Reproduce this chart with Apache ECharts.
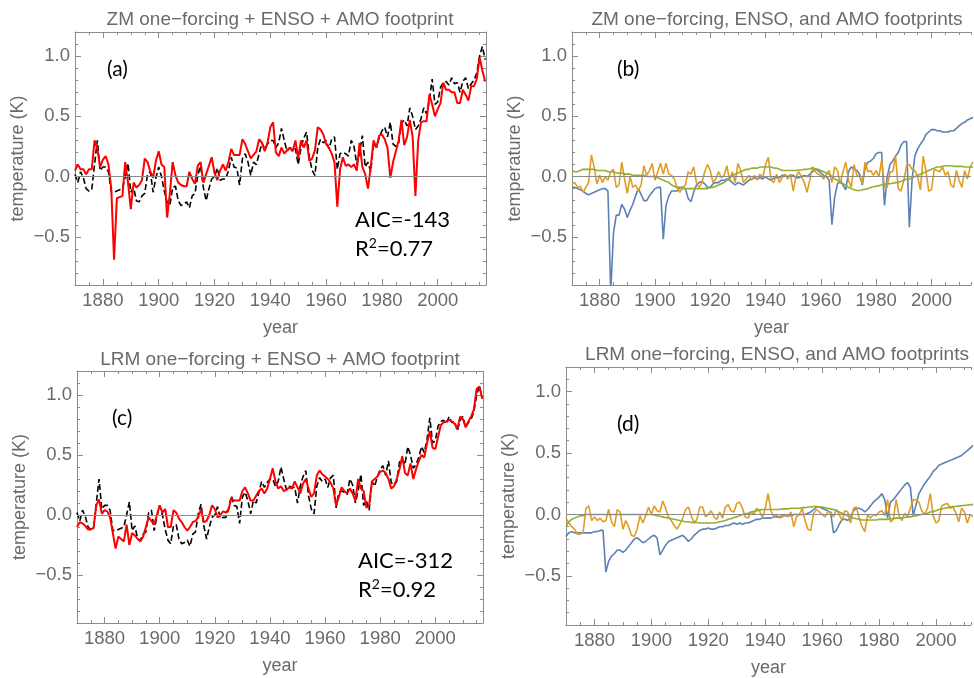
<!DOCTYPE html>
<html>
<head>
<meta charset="utf-8">
<script src="https://cdn.jsdelivr.net/npm/echarts@6/dist/echarts.min.js"></script>
<style>
  html, body { margin: 0; padding: 0; background: #fff; }
  #chart { width: 974px; height: 678px; }
</style>
</head>
<body>
<div id="chart"></div>
<script>
const firstYear = 1870

// observed temperature (black dashed, panels a and c)
const observed = [
  0.02, -0.05, 0.04, -0.01, -0.10, -0.12, -0.11, 0.10, 0.30, 0.05,
  0.08, 0.08, 0.04, -0.13, -0.13, -0.12, -0.11, -0.10, 0.00, 0.11,
  -0.13, -0.09, -0.20, -0.21, -0.16, -0.14, 0.02, 0.04, -0.13, -0.01,
  0.08, 0.00, -0.12, -0.21, -0.24, -0.09, -0.08, -0.20, -0.24, -0.23,
  -0.21, -0.26, -0.16, -0.14, 0.01, 0.09, -0.09, -0.20, -0.10, -0.02,
  0.00, 0.07, -0.03, -0.02, -0.02, 0.05, 0.16, 0.08, 0.07, -0.07,
  0.15, 0.19, 0.12, 0.01, 0.12, 0.10, 0.19, 0.28, 0.23, 0.27,
  0.30, 0.30, 0.24, 0.28, 0.40, 0.30, 0.21, 0.24, 0.23, 0.23,
  0.10, 0.24, 0.32, 0.37, 0.16, 0.05, 0.01, 0.24, 0.31, 0.28,
  0.30, 0.23, 0.31, 0.33, 0.06, 0.19, 0.20, 0.19, 0.17, 0.30,
  0.25, 0.10, 0.20, 0.34, 0.08, 0.12, 0.04, 0.28, 0.24, 0.32,
  0.38, 0.41, 0.33, 0.45, 0.27, 0.25, 0.28, 0.44, 0.47, 0.42,
  0.57, 0.50, 0.39, 0.42, 0.48, 0.57, 0.52, 0.63, 0.81, 0.60,
  0.62, 0.74, 0.78, 0.79, 0.76, 0.82, 0.77, 0.78, 0.70, 0.79,
  0.82, 0.73, 0.77, 0.80, 0.86, 1.00, 1.08, 0.97
]

// ZM one-forcing + ENSO + AMO fit (red, panel a)
const zmFit = [
  0.05, 0.10, 0.06, 0.06, 0.02, 0.06, 0.06, 0.30, 0.23, 0.08,
  0.14, 0.17, 0.10, -0.10, -0.69, -0.18, -0.17, -0.16, 0.12, -0.05,
  -0.27, -0.05, -0.09, -0.07, -0.03, 0.15, 0.12, 0.04, -0.01, 0.13,
  0.21, 0.10, 0.08, -0.34, -0.14, 0.12, 0.01, -0.05, -0.07, -0.08,
  -0.08, 0.04, -0.02, -0.06, 0.09, 0.12, -0.05, 0.02, 0.09, 0.16,
  0.03, -0.03, 0.05, 0.10, 0.05, 0.12, 0.23, 0.18, 0.18, 0.18,
  0.31, 0.27, 0.21, 0.15, 0.18, 0.21, 0.31, 0.28, 0.21, 0.28,
  0.41, 0.45, 0.20, 0.17, 0.24, 0.19, 0.22, 0.24, 0.21, 0.30,
  0.15, 0.30, 0.24, 0.30, 0.13, 0.15, 0.22, 0.41, 0.39, 0.35,
  0.27, 0.24, 0.19, 0.12, -0.25, 0.06, 0.16, 0.09, 0.10, 0.08,
  0.10, 0.05, 0.28, 0.08, 0.02, -0.10, 0.08, 0.30, 0.24, 0.34,
  0.35, 0.31, 0.24, -0.01, 0.12, 0.21, 0.30, 0.47, 0.26, 0.33,
  0.47, 0.33, -0.16, 0.30, 0.45, 0.46, 0.46, 0.68, 0.60, 0.50,
  0.56, 0.61, 0.78, 0.72, 0.72, 0.70, 0.70, 0.61, 0.61, 0.72,
  0.68, 0.63, 0.75, 0.75, 0.81, 0.99, 0.88, 0.79
]

// LRM one-forcing + ENSO + AMO fit (red, panel c)
const lrmFit = [
  -0.10, -0.06, -0.07, -0.09, -0.12, -0.12, -0.11, 0.08, 0.13, 0.01,
  0.04, 0.03, -0.02, -0.15, -0.28, -0.18, -0.20, -0.22, -0.08, -0.25,
  -0.15, -0.17, -0.20, -0.22, -0.18, -0.10, -0.02, -0.05, -0.08, 0.00,
  0.08, 0.02, 0.05, -0.10, -0.10, 0.04, 0.02, -0.03, -0.06, -0.10,
  -0.13, -0.10, -0.06, -0.05, -0.02, 0.05, -0.06, -0.05, 0.00, 0.08,
  0.05, -0.02, 0.00, 0.03, 0.02, 0.05, 0.14, 0.12, 0.12, 0.12,
  0.20, 0.23, 0.18, 0.12, 0.12, 0.16, 0.20, 0.22, 0.18, 0.22,
  0.30, 0.39, 0.28, 0.22, 0.24, 0.20, 0.21, 0.23, 0.22, 0.28,
  0.23, 0.18, 0.26, 0.30, 0.22, 0.15, 0.18, 0.33, 0.37, 0.34,
  0.32, 0.30, 0.27, 0.22, 0.08, 0.15, 0.23, 0.20, 0.18, 0.22,
  0.18, 0.12, 0.30, 0.22, 0.20, 0.06, 0.08, 0.28, 0.30, 0.32,
  0.36, 0.37, 0.35, 0.30, 0.22, 0.24, 0.30, 0.38, 0.49, 0.35,
  0.33, 0.43, 0.30, 0.38, 0.45, 0.50, 0.48, 0.60, 0.70, 0.56,
  0.55, 0.65, 0.75, 0.77, 0.78, 0.79, 0.78, 0.76, 0.72, 0.82,
  0.80, 0.73, 0.78, 0.82, 0.88, 1.05, 1.07, 0.97
]

// panel b footprints (ZM)
const zmForcing = [
  -0.09, -0.09, -0.10, -0.11, -0.12, -0.14, -0.15, -0.14, -0.13, -0.12,
  -0.11, -0.10, -0.10, -0.12, -0.96, -0.47, -0.32, -0.32, -0.23, -0.27,
  -0.34, -0.28, -0.23, -0.16, -0.10, -0.15, -0.20, -0.20, -0.16, -0.13,
  -0.10, -0.09, -0.09, -0.52, -0.24, -0.16, -0.12, -0.12, -0.12, -0.09,
  -0.09, -0.10, -0.18, -0.21, -0.13, -0.07, -0.05, -0.04, -0.06, -0.09,
  -0.09, -0.06, -0.05, -0.05, -0.03, -0.03, -0.02, -0.03, -0.05, -0.07,
  -0.05, -0.06, -0.07, -0.05, -0.03, -0.02, -0.01, -0.02, -0.01, -0.02,
  0.00, -0.02, -0.03, -0.01, -0.01, -0.01, 0.01, 0.01, 0.00, 0.01,
  0.01, -0.01, -0.01, 0.00, 0.01, 0.00, 0.02, 0.04, 0.06, 0.05,
  0.03, 0.01, 0.00, -0.03, -0.40, -0.17, -0.06, -0.03, -0.07, -0.11,
  0.04, 0.08, 0.06, 0.05, 0.02, -0.07, 0.07, 0.12, 0.13, 0.15,
  0.19, 0.20, 0.20, -0.24, 0.00, 0.10, 0.13, 0.17, 0.20, 0.26,
  0.29, 0.29, -0.42, -0.02, 0.17, 0.23, 0.27, 0.30, 0.35, 0.37,
  0.39, 0.39, 0.38, 0.38, 0.37, 0.37, 0.37, 0.38, 0.38, 0.40,
  0.42, 0.44, 0.45, 0.47, 0.48, 0.49, 0.50, 0.51
]
const zmEnso = [
  -0.06, -0.05, -0.09, -0.08, -0.13, -0.09, -0.05, 0.18, 0.08, -0.06,
  0.01, -0.05, 0.00, -0.03, 0.04, 0.06, -0.09, -0.07, 0.12, -0.02,
  -0.14, 0.00, -0.09, -0.07, -0.12, -0.07, 0.09, 0.01, 0.05, 0.11,
  -0.03, 0.04, 0.11, 0.02, 0.11, 0.02, 0.01, -0.02, -0.09, -0.13,
  -0.09, -0.07, 0.04, 0.02, 0.08, -0.05, -0.09, -0.05, 0.04, 0.10,
  0.05, -0.05, -0.02, 0.04, -0.01, 0.01, 0.09, -0.03, 0.04, -0.05,
  0.11, 0.05, -0.05, -0.02, 0.01, -0.03, 0.01, -0.03, 0.02, -0.01,
  0.10, 0.16, -0.03, -0.05, 0.02, -0.05, -0.01, 0.02, -0.02, 0.02,
  -0.12, 0.00, 0.04, 0.00, -0.05, -0.13, -0.03, 0.08, 0.04, 0.02,
  0.01, -0.02, 0.02, 0.05, -0.05, 0.08, 0.05, -0.06, 0.04, 0.12,
  -0.03, -0.09, 0.10, 0.01, 0.00, -0.06, 0.12, 0.04, 0.05, 0.01,
  0.05, 0.00, 0.14, -0.09, -0.09, 0.04, 0.04, 0.17, -0.10, -0.12,
  -0.03, 0.09, 0.10, 0.06, 0.05, 0.00, -0.11, 0.17, 0.05, -0.12,
  -0.11, 0.06, 0.05, 0.04, 0.08, 0.01, 0.04, -0.07, -0.09, 0.05,
  -0.03, -0.09, 0.05, -0.02, 0.08, 0.12, 0.10, 0.00
]
const zmAmo = [
  0.05, 0.04, 0.04, 0.05, 0.06, 0.06, 0.06, 0.06, 0.06, 0.05,
  0.05, 0.05, 0.05, 0.04, 0.04, 0.04, 0.03, 0.03, 0.03, 0.02,
  0.02, 0.02, 0.01, 0.01, 0.01, 0.01, 0.01, 0.00, 0.00, 0.00,
  0.00, -0.01, -0.02, -0.03, -0.04, -0.05, -0.07, -0.08, -0.09, -0.09,
  -0.10, -0.10, -0.10, -0.10, -0.10, -0.10, -0.10, -0.10, -0.10, -0.10,
  -0.09, -0.09, -0.08, -0.07, -0.06, -0.05, -0.03, -0.01, 0.01, 0.02,
  0.03, 0.04, 0.05, 0.06, 0.06, 0.07, 0.07, 0.07, 0.08, 0.08,
  0.08, 0.08, 0.08, 0.07, 0.07, 0.06, 0.05, 0.05, 0.05, 0.05,
  0.05, 0.05, 0.055, 0.055, 0.06, 0.06, 0.065, 0.07, 0.065, 0.06,
  0.05, 0.04, 0.03, 0.02, 0.00, -0.02, -0.03, -0.05, -0.06, -0.07,
  -0.09, -0.10, -0.11, -0.115, -0.115, -0.11, -0.105, -0.10, -0.09, -0.085,
  -0.08, -0.075, -0.07, -0.065, -0.06, -0.06, -0.055, -0.05, -0.05, -0.04,
  -0.03, -0.02, -0.02, -0.01, 0.00, 0.01, 0.02, 0.03, 0.04, 0.05,
  0.06, 0.07, 0.08, 0.08, 0.085, 0.09, 0.09, 0.09, 0.085, 0.085,
  0.085, 0.085, 0.08, 0.08, 0.08, 0.08, 0.08, 0.08
]

// panel d footprints (LRM)
const lrmForcing = [
  -0.18, -0.15, -0.14, -0.15, -0.15, -0.15, -0.15, -0.15, -0.15, -0.15,
  -0.14, -0.14, -0.13, -0.13, -0.47, -0.38, -0.34, -0.32, -0.29, -0.29,
  -0.31, -0.29, -0.26, -0.23, -0.20, -0.19, -0.21, -0.23, -0.22, -0.20,
  -0.18, -0.17, -0.19, -0.33, -0.29, -0.25, -0.22, -0.21, -0.20, -0.19,
  -0.18, -0.17, -0.19, -0.22, -0.20, -0.17, -0.15, -0.13, -0.12, -0.12,
  -0.11, -0.12, -0.12, -0.11, -0.10, -0.10, -0.09, -0.09, -0.08, -0.07,
  -0.08, -0.07, -0.08, -0.07, -0.07, -0.06, -0.05, -0.04, -0.04, -0.03,
  -0.03, -0.03, -0.03, -0.02, -0.02, -0.02, -0.01, -0.01, -0.01, -0.01,
  0.00, 0.00, 0.00, 0.00, 0.00, 0.01, 0.02, 0.04, 0.06, 0.06,
  0.05, 0.04, 0.03, 0.01, -0.15, -0.13, -0.08, -0.04, -0.04, -0.05,
  -0.02, 0.03, 0.05, 0.05, 0.04, 0.02, 0.04, 0.07, 0.10, 0.12,
  0.14, 0.17, 0.12, -0.03, 0.10, 0.12, 0.15, 0.18, 0.21, 0.24,
  0.26, 0.22, -0.01, 0.08, 0.17, 0.21, 0.25, 0.28, 0.31, 0.35,
  0.37, 0.40, 0.41, 0.42, 0.43, 0.44, 0.45, 0.46, 0.47, 0.48,
  0.50, 0.52, 0.54, 0.56, 0.58, 0.60, 0.62, 0.64
]
const lrmEnso = [
  -0.03, -0.07, -0.10, -0.12, -0.16, -0.16, -0.15, 0.05, 0.07, -0.05,
  -0.02, -0.05, -0.03, -0.06, -0.05, 0.04, -0.06, -0.10, 0.04, 0.02,
  -0.12, -0.05, -0.10, -0.17, -0.18, -0.12, -0.01, -0.07, -0.01, 0.06,
  0.00, 0.07, 0.03, 0.02, 0.11, 0.05, -0.02, -0.05, -0.09, -0.12,
  -0.08, -0.03, 0.04, 0.06, -0.01, -0.07, -0.04, 0.06, 0.06, -0.02,
  0.00, 0.03, -0.02, -0.04, 0.02, -0.03, 0.06, 0.08, 0.03, 0.02,
  0.09, 0.10, 0.05, -0.02, -0.03, 0.02, 0.00, 0.05, 0.03, -0.03,
  0.05, 0.17, 0.03, -0.02, 0.00, -0.03, -0.02, 0.00, -0.02, 0.02,
  -0.10, -0.02, 0.00, 0.05, -0.05, -0.12, -0.13, 0.01, 0.04, 0.02,
  0.00, -0.02, 0.02, 0.02, -0.02, 0.04, 0.00, -0.05, 0.03, 0.02,
  -0.07, 0.05, 0.06, -0.03, -0.10, -0.14, 0.00, -0.03, 0.00, -0.01,
  0.02, 0.03, -0.01, 0.12, -0.06, -0.04, 0.12, -0.01, -0.05, 0.01,
  -0.02, 0.05, 0.12, 0.12, 0.10, 0.03, 0.00, 0.05, 0.17, -0.01,
  -0.07, -0.05, 0.07, 0.08, 0.09, 0.05, 0.06, 0.01, -0.06, 0.05,
  0.02, -0.07, 0.00, -0.02, 0.02, 0.05, 0.07, -0.02
]
const lrmAmo = [
  -0.10, -0.06, -0.04, -0.03, -0.02, -0.01, -0.01, 0.00, 0.00, 0.00,
  0.00, 0.00, 0.00, 0.00, 0.00, 0.00, 0.00, 0.00, 0.00, 0.00,
  0.00, 0.00, 0.00, 0.00, 0.00, 0.00, 0.00, 0.00, 0.00, 0.00,
  0.00, -0.005, -0.01, -0.015, -0.02, -0.025, -0.03, -0.035, -0.04, -0.045,
  -0.05, -0.055, -0.06, -0.06, -0.065, -0.065, -0.065, -0.07, -0.07, -0.07,
  -0.07, -0.07, -0.07, -0.065, -0.06, -0.055, -0.05, -0.04, -0.035, -0.025,
  -0.02, -0.01, 0.00, 0.005, 0.01, 0.02, 0.025, 0.03, 0.035, 0.04,
  0.04, 0.04, 0.04, 0.04, 0.04, 0.04, 0.045, 0.045, 0.045, 0.05,
  0.05, 0.05, 0.05, 0.055, 0.055, 0.06, 0.06, 0.065, 0.065, 0.06,
  0.06, 0.055, 0.05, 0.045, 0.04, 0.03, 0.02, 0.01, 0.00, -0.01,
  -0.02, -0.03, -0.035, -0.04, -0.045, -0.045, -0.045, -0.045, -0.045, -0.045,
  -0.04, -0.04, -0.04, -0.04, -0.035, -0.035, -0.03, -0.03, -0.03, -0.025,
  -0.02, -0.02, -0.015, -0.01, -0.005, 0.00, 0.005, 0.01, 0.02, 0.025,
  0.03, 0.04, 0.045, 0.05, 0.055, 0.06, 0.065, 0.065, 0.07, 0.07,
  0.075, 0.075, 0.08, 0.08, 0.08, 0.08, 0.08, 0.08
]

const majorYears = [1880, 1900, 1920, 1940, 1960, 1980, 2000]
const majorTemps = [-0.5, 0, 0.5, 1.0]

const frameColor = '#8c8c8c'
const labelColor = '#6a6a6a'
const labelFont = '"Liberation Sans", Arial, sans-serif'
const noteFont = 'Lato, "Noto Sans", sans-serif'

// right-hand panels are cut off by the page edge, so their x range stops early
const panels = [
  {
    grid: { left: 75, top: 32, width: 411, height: 253 }, xMax: 2017.3, rightFrame: true,
    title: 'ZM one−forcing + ENSO + AMO footprint', titleX: 280, titleY: 20,
    tag: '(a)', tagX: 107, tagY: 69,
    aic: 'AIC=-143', r2: '0.77', statsX: 355, statsY: 220,
    lines: [
      { data: observed, color: '#000', dash: [6, 3], width: 1.6 },
      { data: zmFit, color: '#ff0000', width: 2 }
    ]
  },
  {
    grid: { left: 572, top: 32, width: 402, height: 253 }, xMax: 2014.3, rightFrame: false,
    title: 'ZM one−forcing, ENSO, and AMO footprints', titleX: 777, titleY: 20,
    tag: '(b)', tagX: 617, tagY: 69,
    lines: [
      { data: zmForcing, color: '#5e81b5', width: 1.6 },
      { data: zmEnso, color: '#e19c24', width: 1.6 },
      { data: zmAmo, color: '#8fb032', width: 1.6 }
    ]
  },
  {
    grid: { left: 77, top: 371, width: 406, height: 252 }, xMax: 2017.3, rightFrame: true,
    title: 'LRM one−forcing + ENSO + AMO footprint', titleX: 280, titleY: 360,
    tag: '(c)', tagX: 112, tagY: 418,
    aic: 'AIC=-312', r2: '0.92', statsX: 358, statsY: 561,
    lines: [
      { data: observed, color: '#000', dash: [6, 3], width: 1.6 },
      { data: lrmFit, color: '#ff0000', width: 2 }
    ]
  },
  {
    grid: { left: 566, top: 367, width: 408, height: 261 }, xMax: 2012.3, rightFrame: false,
    title: 'LRM one−forcing, ENSO, and AMO footprints', titleX: 777, titleY: 355,
    tag: '(d)', tagX: 617, tagY: 424,
    lines: [
      { data: lrmForcing, color: '#5e81b5', width: 1.6 },
      { data: lrmEnso, color: '#e19c24', width: 1.6 },
      { data: lrmAmo, color: '#8fb032', width: 1.6 }
    ]
  }
]

const xMin = 1870
const yMin = -0.9, yMax = 1.2

function yLabel(v) {
  const t = Math.round(v * 10)
  if (t % 5 !== 0) return ''
  return (t < 0 ? '−' : '') + Math.abs(t / 10).toFixed(1)
}

const grids = [], xAxes = [], yAxes = [], series = [], graphics = []

panels.forEach((p, gi) => {
  grids.push(Object.assign({ show: false }, p.grid))

  const frameLine = { show: true, onZero: false, lineStyle: { color: frameColor, width: 1 } }
  const noLine = { show: false, onZero: false }
  const xb = { type: 'value', gridIndex: gi, min: xMin, max: p.xMax, splitLine: { show: false } }
  const yb = { type: 'value', gridIndex: gi, min: yMin, max: yMax, splitLine: { show: false } }
  const tick = (len, extra) => Object.assign({ inside: true, length: len, lineStyle: { color: frameColor, width: 1 } }, extra || {})

  const xFirst = xAxes.length
  xAxes.push(Object.assign({}, xb, {
    position: 'bottom', interval: 5, axisLine: frameLine, axisTick: tick(3),
    axisLabel: { color: labelColor, fontSize: 18.5, fontFamily: labelFont, margin: 6,
      formatter: v => (v % 20 === 0 ? String(v) : '') },
    name: 'year', nameLocation: 'middle', nameGap: 34,
    nameTextStyle: { color: labelColor, fontSize: 18, fontFamily: labelFont }
  }))
  xAxes.push(Object.assign({}, xb, { position: 'bottom', axisLine: noLine, axisTick: tick(6, { customValues: majorYears }), axisLabel: { show: false } }))
  xAxes.push(Object.assign({}, xb, { position: 'top', interval: 5, axisLine: frameLine, axisTick: tick(3), axisLabel: { show: false } }))
  xAxes.push(Object.assign({}, xb, { position: 'top', axisLine: noLine, axisTick: tick(6, { customValues: majorYears }), axisLabel: { show: false } }))

  const yFirst = yAxes.length
  yAxes.push(Object.assign({}, yb, {
    position: 'left', interval: 0.1, axisLine: frameLine, axisTick: tick(3),
    axisLabel: { color: labelColor, fontSize: 18.5, fontFamily: labelFont, margin: 5, formatter: yLabel },
    name: 'temperature (K)', nameLocation: 'middle', nameGap: 48,
    nameTextStyle: { color: labelColor, fontSize: 18, fontFamily: labelFont }
  }))
  yAxes.push(Object.assign({}, yb, { position: 'left', axisLine: noLine, axisTick: tick(6, { customValues: majorTemps }), axisLabel: { show: false } }))
  if (p.rightFrame) {
    yAxes.push(Object.assign({}, yb, { position: 'right', interval: 0.1, axisLine: frameLine, axisTick: tick(3), axisLabel: { show: false } }))
    yAxes.push(Object.assign({}, yb, { position: 'right', axisLine: noLine, axisTick: tick(6, { customValues: majorTemps }), axisLabel: { show: false } }))
  }

  p.lines.forEach((ln, k) => {
    const s = {
      type: 'line', xAxisIndex: xFirst, yAxisIndex: yFirst,
      data: ln.data.map((v, i) => [firstYear + i, v]),
      showSymbol: false, clip: true, silent: true,
      lineStyle: { color: ln.color, width: ln.width, type: ln.dash || 'solid' },
      itemStyle: { color: ln.color }
    }
    if (k === 0) {
      s.markLine = {
        silent: true, symbol: ['none', 'none'], label: { show: false },
        lineStyle: { color: '#8a8a8a', width: 1, type: 'solid' },
        data: [{ yAxis: 0 }]
      }
    }
    series.push(s)
  })

  graphics.push({
    type: 'text', x: p.titleX, y: p.titleY,
    style: { text: p.title, align: 'center', verticalAlign: 'middle', fill: labelColor, font: '19px ' + labelFont }
  })
  graphics.push({
    type: 'text', x: p.tagX, y: p.tagY,
    style: { text: p.tag, align: 'left', verticalAlign: 'middle', fill: '#000', font: '21px ' + noteFont }
  })
  if (p.aic) {
    graphics.push({
      type: 'text', x: p.statsX, y: p.statsY,
      style: { text: p.aic, align: 'left', verticalAlign: 'middle', fill: '#000', font: '22px ' + noteFont }
    })
    graphics.push({
      type: 'text', x: p.statsX, y: p.statsY + 29,
      style: {
        text: '{n|R}{s|2}{n|=' + p.r2 + '}', align: 'left', verticalAlign: 'middle', fill: '#000',
        font: '22px ' + noteFont,
        rich: {
          n: { fontSize: 22, fontFamily: noteFont, lineHeight: 26, fill: '#000' },
          s: { fontSize: 14, fontFamily: noteFont, lineHeight: 14, verticalAlign: 'top', fill: '#000' }
        }
      }
    })
  }
})

const chart = echarts.init(document.getElementById('chart'), null, { renderer: 'canvas' })
chart.setOption({
  animation: false,
  backgroundColor: '#fff',
  grid: grids,
  xAxis: xAxes,
  yAxis: yAxes,
  series: series,
  graphic: graphics
})
</script>
</body>
</html>
